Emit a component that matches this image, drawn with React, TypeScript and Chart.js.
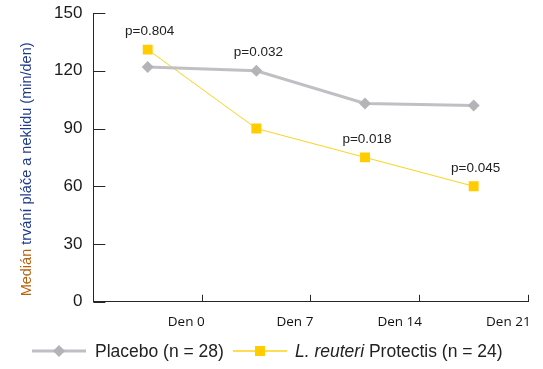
import React, { useEffect, useRef } from 'react';
import { Chart, registerables } from 'chart.js';
Chart.register(...registerables);

const days = ['Den 0', 'Den 7', 'Den 14', 'Den 21'];
const placebo = [122, 120, 103, 102];
const reuteri = [131, 90, 75, 60];
const pValues = ['p=0.804', 'p=0.032', 'p=0.018', 'p=0.045'];
const pAnchorSeries = [1, 0, 1, 1];
const yMin = 0;
const yMax = 150;
const yStep = 30;
const titleParts = ['Medián ', 'trvání pláče a neklidu (min/den)'];
const legendPlacebo = 'Placebo (n = 28)';
const legendReuteriItalic = 'L. reuteri';
const legendReuteriRest = ' Protectis (n = 24)';

const GRAY_LINE = '#C0C0C4';
const GRAY_MARK = '#B4B4B8';
const YELLOW_LINE = '#FFD21A';
const YELLOW_MARK = '#FFCC00';
const AXIS = '#262626';
const SANS = '"Liberation Sans", Arial, sans-serif';

const pLabelPlugin = {
  id: 'pLabels',
  afterDatasetsDraw(chart: any) {
    const ctx = chart.ctx;
    ctx.save();
    ctx.font = `13.5px ${SANS}`;
    ctx.fillStyle = '#222';
    ctx.textAlign = 'center';
    ctx.textBaseline = 'middle';
    pValues.forEach((t, i) => {
      const el = chart.getDatasetMeta(pAnchorSeries[i]).data[i];
      ctx.fillText(t, el.x + 2, el.y - 18);
    });
    ctx.restore();
  },
};

const innerTicksPlugin = {
  id: 'innerYTicks',
  afterDraw(chart: any) {
    const ctx = chart.ctx;
    const scale = chart.scales.y;
    const left = chart.chartArea.left;
    ctx.save();
    ctx.strokeStyle = AXIS;
    ctx.lineWidth = 1;
    ctx.beginPath();
    scale.ticks.forEach((t: any) => {
      const py = Math.round(scale.getPixelForValue(t.value)) + 0.5;
      ctx.moveTo(left, py);
      ctx.lineTo(left + 12, py);
    });
    ctx.stroke();
    ctx.restore();
  },
};

const titlePlugin = {
  id: 'yTitle',
  afterDraw(chart: any) {
    const ctx = chart.ctx;
    const area = chart.chartArea;
    ctx.save();
    ctx.font = `14.5px ${SANS}`;
    const w0 = ctx.measureText(titleParts[0]).width;
    const w1 = ctx.measureText(titleParts[1]).width;
    const total = w0 + w1;
    const cy = (area.top + area.bottom) / 2 + 12;
    ctx.translate(27, cy);
    ctx.rotate(-Math.PI / 2);
    ctx.textAlign = 'left';
    ctx.textBaseline = 'middle';
    ctx.fillStyle = '#B8600B';
    ctx.fillText(titleParts[0], -total / 2, 0);
    ctx.fillStyle = '#1F3A8A';
    ctx.fillText(titleParts[1], -total / 2 + w0, 0);
    ctx.restore();
  },
};

export default function App() {
  const ref = useRef<HTMLCanvasElement>(null);
  useEffect(() => {
    const chart = new Chart(ref.current as HTMLCanvasElement, {
      type: 'line',
      data: {
        labels: days,
        datasets: [
          {
            label: legendPlacebo,
            data: placebo,
            borderColor: GRAY_LINE,
            borderWidth: 3,
            pointStyle: 'rectRot',
            pointRadius: 6,
            pointBackgroundColor: GRAY_MARK,
            pointBorderColor: GRAY_MARK,
            pointBorderWidth: 0,
            tension: 0,
          },
          {
            label: legendReuteriItalic + legendReuteriRest,
            data: reuteri,
            borderColor: YELLOW_LINE,
            borderWidth: 1,
            pointStyle: 'rect',
            pointRadius: 7,
            pointBackgroundColor: YELLOW_MARK,
            pointBorderColor: YELLOW_MARK,
            pointBorderWidth: 0,
            tension: 0,
          },
        ],
      },
      options: {
        responsive: false,
        animation: false,
        layout: { padding: { left: 43, top: 13, right: 15, bottom: 20 } },
        plugins: { legend: { display: false }, tooltip: { enabled: false } },
        scales: {
          x: {
            type: 'category',
            offset: true,
            grid: {
              offset: true,
              drawOnChartArea: false,
              tickLength: -7,
              color: AXIS,
              lineWidth: 1,
            },
            border: { color: AXIS, width: 1 },
            ticks: {
              font: { family: '"Open Sans", sans-serif', size: 13.5 },
              color: '#111',
              align: 'end',
              labelOffset: 57,
              padding: 19,
              maxRotation: 0,
              autoSkip: false,
            },
          },
          y: {
            min: yMin,
            max: yMax,
            afterFit(scale: any) {
              scale.paddingTop = 0;
              scale.paddingBottom = 0;
            },
            grid: {
              drawOnChartArea: false,
              drawTicks: false,
            },
            border: { color: AXIS, width: 1 },
            ticks: {
              stepSize: yStep,
              font: { family: SANS, size: 17 },
              color: '#1a1a1a',
              padding: 11,
            },
          },
        },
      },
      plugins: [pLabelPlugin, innerTicksPlugin, titlePlugin],
    } as any);
    return () => chart.destroy();
  }, []);

  const textStyle: React.CSSProperties = {
    position: 'absolute',
    top: 340,
    fontFamily: SANS,
    fontSize: 17.5,
    lineHeight: '22px',
    color: '#222',
    whiteSpace: 'nowrap',
  };

  return (
    <div style={{ position: 'absolute', left: 0, top: 0, width: 543, height: 369, background: '#fff' }}>
      <canvas ref={ref} width={543} height={369} style={{ display: 'block', width: 543, height: 369 }} />
      <svg width={54} height={14} style={{ position: 'absolute', left: 32, top: 344 }}>
        <line x1={0} y1={7} x2={54} y2={7} stroke={GRAY_LINE} strokeWidth={3} />
        <polygon points="27,1 33,7 27,13 21,7" fill={GRAY_MARK} />
      </svg>
      <span style={{ ...textStyle, left: 95 }}>{legendPlacebo}</span>
      <svg width={54} height={14} style={{ position: 'absolute', left: 233, top: 344 }}>
        <line x1={0} y1={7} x2={54} y2={7} stroke={YELLOW_LINE} strokeWidth={1.5} />
        <rect x={22} y={2} width={10} height={10} fill={YELLOW_MARK} />
      </svg>
      <span style={{ ...textStyle, left: 295 }}>
        <i>{legendReuteriItalic}</i>
        {legendReuteriRest}
      </span>
    </div>
  );
}
